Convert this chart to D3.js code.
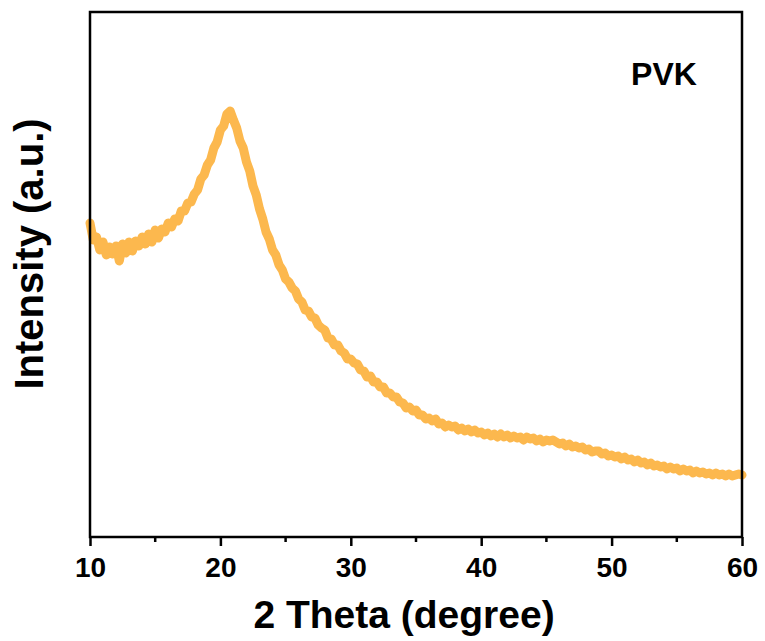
<!DOCTYPE html>
<html>
<head>
<meta charset="utf-8">
<script src="https://cdn.jsdelivr.net/npm/d3@7"></script>
<style>
  body { margin: 0; background: #fff; }
  text { font-family: "Liberation Sans", Arial, sans-serif; font-weight: bold; }
</style>
</head>
<body>
<svg id="chart"></svg>
<script>
// XRD scan of PVK, 2theta from 10 to 60 deg, step 0.25
const scanStart = 10;
const scanStep = 0.25;
const intensity = [
  3140, 2970, 3000, 2870, 2950, 2820, 2900, 2830, 2910, 2760, 2930, 2840, 2950, 2860, 2960, 2910,
  3000, 2930, 3030, 2950, 3070, 2990, 3080, 3050, 3140, 3100, 3180, 3160, 3260, 3260, 3340, 3350,
  3430, 3470, 3580, 3620, 3720, 3770, 3890, 3950, 4070, 4110, 4230, 4260, 4170, 4090, 3960, 3890,
  3750, 3660, 3510, 3420, 3280, 3180, 3050, 2980, 2870, 2820, 2720, 2670, 2580, 2550, 2490, 2460,
  2380, 2350, 2270, 2260, 2200, 2190, 2120, 2090, 2070, 1990, 1980, 1920, 1920, 1860, 1840, 1780,
  1780, 1740, 1730, 1670, 1660, 1600, 1610, 1550, 1550, 1500, 1500, 1440, 1440, 1400, 1400, 1350,
  1340, 1290, 1300, 1260, 1270, 1220, 1220, 1180, 1190, 1160, 1180, 1130, 1140, 1100, 1120, 1100,
  1110, 1070, 1090, 1060, 1080, 1050, 1070, 1040, 1050, 1020, 1040, 1010, 1030, 1000, 1030, 1000,
  1020, 990, 1010, 990, 1000, 970, 1000, 980, 990, 960, 980, 950, 970, 960, 970, 950,
  930, 940, 910, 930, 900, 910, 890, 900, 870, 880, 850, 860, 860, 830, 840, 810,
  820, 800, 810, 780, 800, 770, 780, 750, 770, 740, 750, 720, 740, 710, 720, 700,
  710, 680, 700, 680, 690, 660, 680, 660, 670, 640, 660, 640, 650, 630, 640, 620,
  640, 620, 630, 610, 630, 610, 620, 630, 620
];
const xTicks = [10, 20, 30, 40, 50, 60];
const xMinorTicks = [15, 25, 35, 45, 55];
const xLabel = "2 Theta (degree)";
const yLabel = "Intensity (a.u.)";
const sampleName = "PVK";

const width = 765, height = 641;
const marginLeft = 90, marginRight = 23, marginTop = 12, marginBottom = 104;

const data = intensity.map((v, i) => ({ theta: scanStart + i * scanStep, value: v }));

const x = d3.scaleLinear([10, 60], [marginLeft, width - marginRight]);
const y = d3.scaleLinear([0, 5250], [height - marginBottom, marginTop]);

const svg = d3.select("#chart")
  .attr("width", width)
  .attr("height", height)
  .attr("viewBox", [0, 0, width, height]);

// curve
const line = d3.line()
  .x(d => x(d.theta))
  .y(d => y(d.value));

svg.append("path")
  .datum(data)
  .attr("fill", "none")
  .attr("stroke", "#fcb84e")
  .attr("stroke-width", 9)
  .attr("stroke-linejoin", "round")
  .attr("stroke-linecap", "round")
  .attr("d", line);

// frame
svg.append("rect")
  .attr("x", marginLeft)
  .attr("y", marginTop)
  .attr("width", width - marginLeft - marginRight)
  .attr("height", height - marginTop - marginBottom)
  .attr("fill", "none")
  .attr("stroke", "#000")
  .attr("stroke-width", 2.5);

// x axis
const gx = svg.append("g")
  .attr("transform", `translate(0,${height - marginBottom})`)
  .call(d3.axisBottom(x).tickValues(xTicks).tickSize(9).tickPadding(11).tickFormat(d3.format("d")))
  .call(g => g.select(".domain").remove());
gx.selectAll(".tick line").attr("stroke", "#000").attr("stroke-width", 2.5);
gx.selectAll(".tick text").attr("fill", "#000").attr("font-size", 28);

svg.append("g")
  .attr("transform", `translate(0,${height - marginBottom})`)
  .selectAll("line")
  .data(xMinorTicks)
  .join("line")
    .attr("x1", d => x(d)).attr("x2", d => x(d))
    .attr("y1", 0).attr("y2", 5)
    .attr("stroke", "#000")
    .attr("stroke-width", 2.5);

// axis titles
svg.append("text")
  .attr("x", 404)
  .attr("y", 628)
  .attr("text-anchor", "middle")
  .attr("font-size", 39)
  .text(xLabel);

svg.append("text")
  .attr("transform", `translate(43,254) rotate(-90)`)
  .attr("text-anchor", "middle")
  .attr("font-size", 40)
  .text(yLabel);

svg.append("text")
  .attr("x", 664)
  .attr("y", 85)
  .attr("text-anchor", "middle")
  .attr("font-size", 32)
  .text(sampleName);
</script>
</body>
</html>
